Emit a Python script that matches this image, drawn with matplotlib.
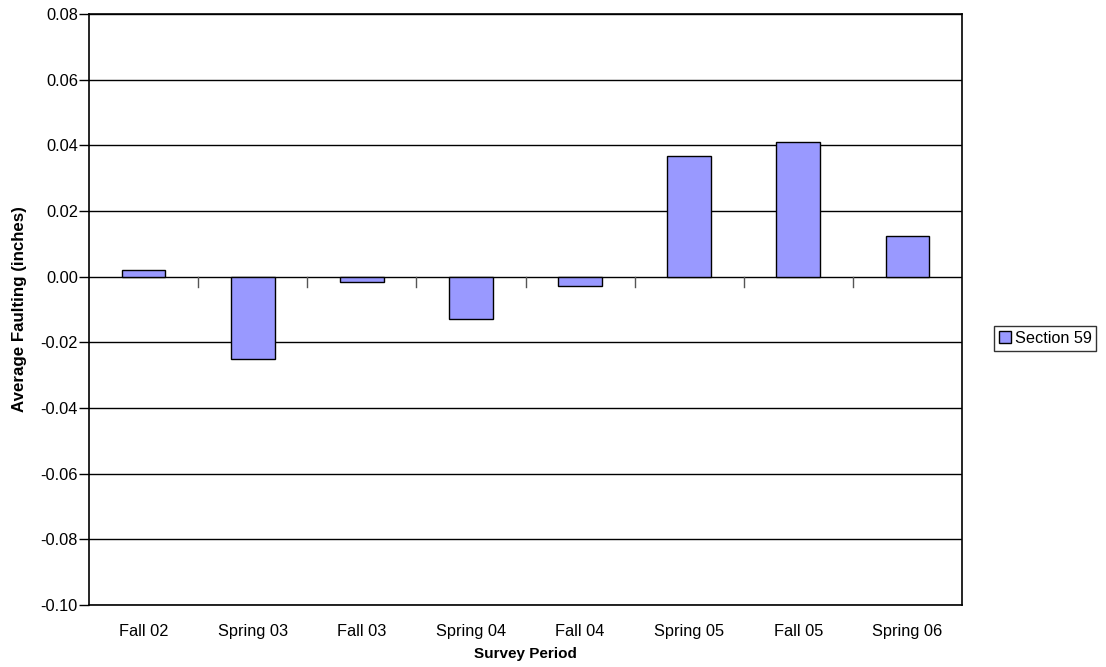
import numpy as np
import matplotlib
matplotlib.use('Agg')
import matplotlib.pyplot as plt

plt.rcParams['font.family'] = ['Liberation Sans', 'DejaVu Sans']

periods = ['Fall 02', 'Spring 03', 'Fall 03', 'Spring 04', 'Fall 04',
           'Spring 05', 'Fall 05', 'Spring 06']
faulting = [0.0020, -0.0251, -0.0017, -0.0130, -0.0028, 0.0369, 0.0409, 0.0123]
yticks = [-0.10, -0.08, -0.06, -0.04, -0.02, 0.00, 0.02, 0.04, 0.06, 0.08]

fig = plt.figure(figsize=(11.06, 6.67), dpi=100)
ax = fig.add_axes([89 / 1106, 62 / 667, 873 / 1106, 591 / 667])

x = np.arange(len(periods))
ax.bar(x, faulting, width=0.4, color='#9999FF', edgecolor='black',
       linewidth=1.0, label='Section 59', zorder=3)

ax.set_xlim(-0.5, len(periods) - 0.5)
ax.set_ylim(-0.10, 0.08)
ax.set_yticks(yticks)
ax.set_yticklabels(['%.2f' % v for v in yticks], fontsize=11.8)
ax.yaxis.grid(True, color='black', linewidth=1.0, zorder=0)
ax.set_axisbelow(True)

ax.set_xticks(x)
ax.set_xticklabels(periods, fontsize=11.8)
ax.tick_params(axis='x', length=0, pad=13.5)
ax.tick_params(axis='y', length=7, width=1, direction='out', pad=1)

# category separator ticks hanging from the zero line
for b in x[:-1] + 0.5:
    ax.plot([b, b], [0, -0.003], color='#555555', linewidth=1.0, zorder=2)

for s in ax.spines.values():
    s.set_linewidth(1.2)
    s.set_color('black')

ax.set_xlabel('Survey Period', fontsize=11, fontweight='bold', labelpad=6)
ax.set_ylabel('Average Faulting (inches)', fontsize=12.2, fontweight='bold', labelpad=9.5)

leg = fig.legend(loc='center left', bbox_to_anchor=(0.899, 0.493),
                 fontsize=11.7, frameon=True, fancybox=False, edgecolor='black',
                 handlelength=0.7, handleheight=0.7, handletextpad=0.25,
                 borderpad=0.3, borderaxespad=0)
leg.get_frame().set_linewidth(1.0)

fig.savefig('out.png', dpi=100)
